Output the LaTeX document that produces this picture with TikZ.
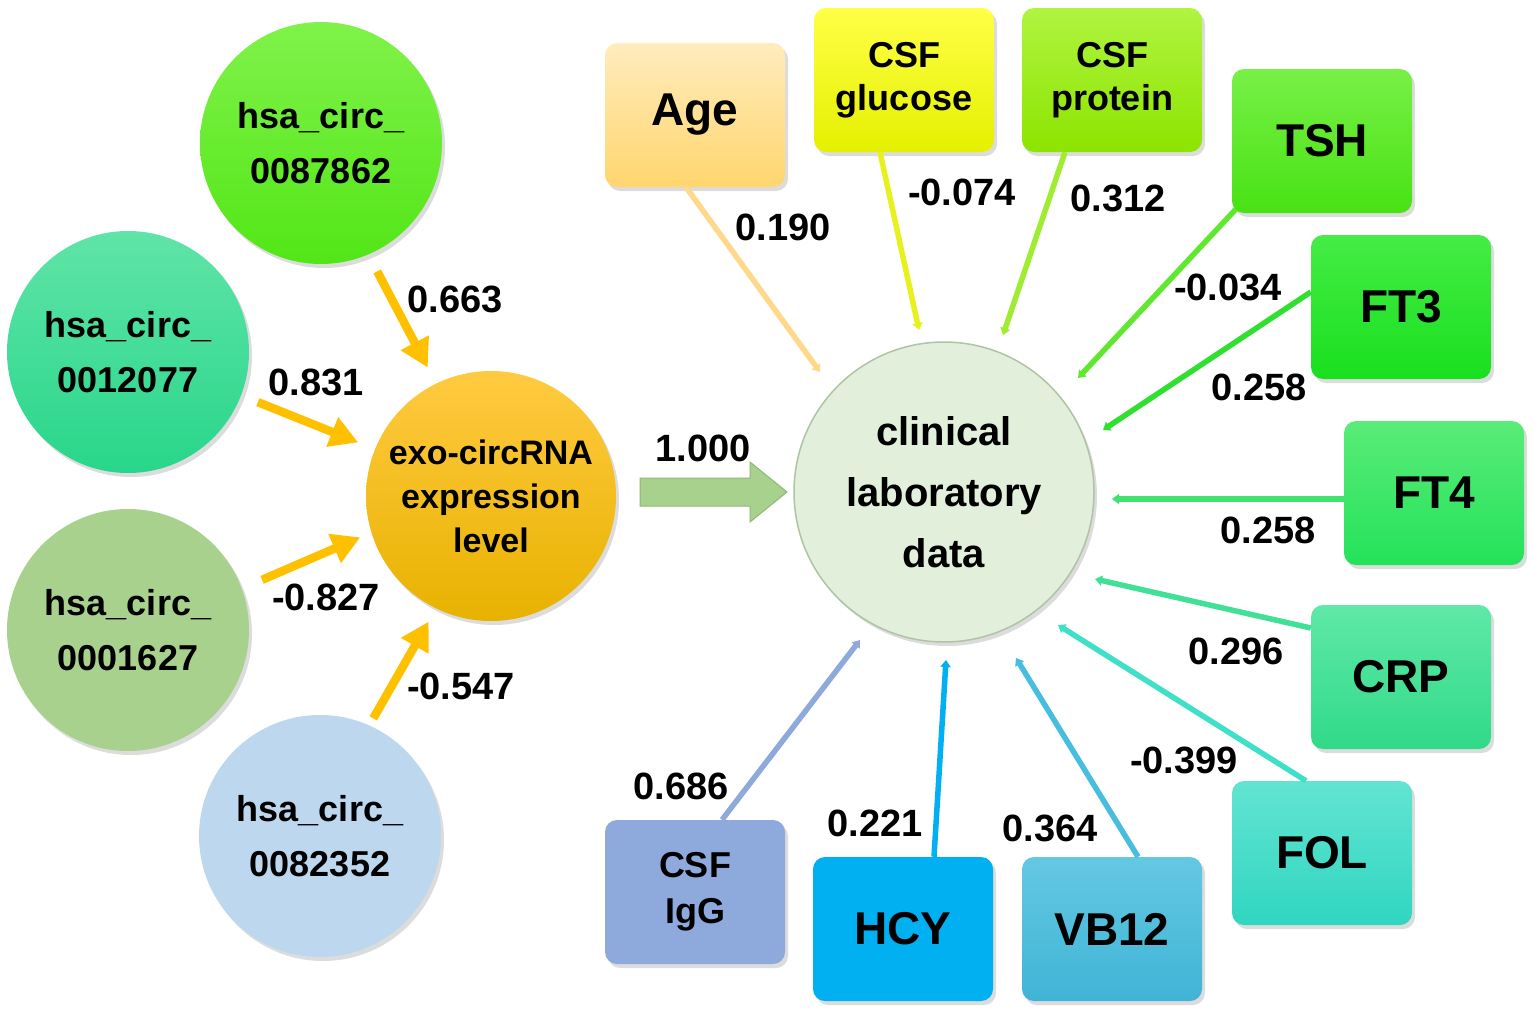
\documentclass[tikz,border=0pt]{standalone}
\usepackage{fontspec}
\setmainfont{Liberation Sans}
\usetikzlibrary{arrows.meta,shadows,calc}
\definecolor{c1t}{RGB}{128,242,74}
\definecolor{c1b}{RGB}{82,230,22}
\definecolor{c2t}{RGB}{96,228,168}
\definecolor{c2b}{RGB}{40,214,138}
\definecolor{c3}{RGB}{169,209,142}
\definecolor{c4}{RGB}{189,215,238}
\definecolor{ext}{RGB}{255,202,64}
\definecolor{exb}{RGB}{232,178,0}
\definecolor{clinF}{RGB}{226,239,218}
\definecolor{clinB}{RGB}{175,195,165}
\definecolor{oarrC}{RGB}{255,192,0}
\definecolor{barr}{RGB}{169,209,142}
\definecolor{barrB}{RGB}{140,185,115}
\definecolor{ageT}{RGB}{255,236,190}\definecolor{ageB}{RGB}{255,214,110}
\definecolor{gluT}{RGB}{255,255,70}\definecolor{gluB}{RGB}{228,240,0}
\definecolor{proT}{RGB}{176,244,64}\definecolor{proB}{RGB}{140,228,0}
\definecolor{tshT}{RGB}{120,240,70}\definecolor{tshB}{RGB}{72,226,20}
\definecolor{ftaT}{RGB}{70,236,70}\definecolor{ftaB}{RGB}{24,224,30}
\definecolor{ftbT}{RGB}{90,236,120}\definecolor{ftbB}{RGB}{36,226,90}
\definecolor{crpT}{RGB}{96,232,168}\definecolor{crpB}{RGB}{48,218,136}
\definecolor{folT}{RGB}{98,228,210}\definecolor{folB}{RGB}{48,214,192}
\definecolor{vbT}{RGB}{100,200,226}\definecolor{vbB}{RGB}{64,180,214}
\definecolor{hcyC}{RGB}{0,176,240}
\definecolor{iggC}{RGB}{142,169,219}
\definecolor{lAge}{RGB}{255,216,140}
\definecolor{lGlu}{RGB}{232,240,30}
\definecolor{lPro}{RGB}{160,236,48}
\definecolor{lTsh}{RGB}{96,232,48}
\definecolor{lFta}{RGB}{48,224,48}
\definecolor{lFtb}{RGB}{64,226,112}
\definecolor{lCrp}{RGB}{64,224,150}
\definecolor{lFol}{RGB}{64,224,200}
\definecolor{lVb}{RGB}{72,190,222}
\begin{document}
\begin{tikzpicture}[x=1pt,y=-1pt,
  shad/.style={drop shadow={shadow xshift=3pt,shadow yshift=-4pt,opacity=0.28}},
  circ/.style={circle, inner sep=0pt, align=center, shad,
    font=\fontsize{36}{55}\selectfont\bfseries},
  box/.style={rectangle, rounded corners=12pt, minimum width=180pt,
    minimum height=144pt, inner sep=0pt, align=center, shad},
  bigt/.style={font=\fontsize{46}{50}\selectfont\bfseries},
  smt/.style={font=\fontsize{36}{43}\selectfont\bfseries},
  lbl/.style={font=\fontsize{38}{40}\selectfont\bfseries, inner sep=0pt},
  oarr/.style={draw=oarrC, line width=8.5pt, -{Triangle[length=28pt,width=30pt]}},
  conn/.style={line width=5.5pt, -{Triangle[length=7pt,width=10pt]}}
]
\useasboundingbox (0,0) rectangle (1535,1017);

% left circles
\node[circ, minimum size=242pt, top color=c1t, bottom color=c1b] (c1) at (321,143) {hsa\_circ\_\\0087862};
\node[circ, minimum size=242pt, top color=c2t, bottom color=c2b] (c2) at (128,352) {hsa\_circ\_\\0012077};
\node[circ, minimum size=242pt, fill=c3] (c3) at (128,630) {hsa\_circ\_\\0001627};
\node[circ, minimum size=242pt, fill=c4] (c4) at (320,836) {hsa\_circ\_\\0082352};
\node[circ, minimum size=250pt, top color=ext, bottom color=exb,
  font=\fontsize{34}{44}\selectfont\bfseries] (exo) at (491,496) {exo-circRNA\\expression\\level};
\node[circ, minimum size=300pt, fill=clinF, draw=clinB, line width=1.5pt,
  font=\fontsize{40}{61}\selectfont\bfseries] (clin) at (944,492) {clinical\\laboratory\\data};

% orange arrows
\draw[oarr, shorten <=19pt, shorten >=18pt] (c1.-67) -- (exo.116);
\draw[oarr, shorten <=18pt, shorten >=18pt] (c2.-21) -- (exo.158);
\draw[oarr, shorten <=22pt, shorten >=12pt] (c3.20.5) -- (exo.197);
\draw[oarr, shorten <=8pt, shorten >=15pt] (c4.66) -- (exo.244);

\node[lbl] (l1) at (455,299) {0.663};
\node[lbl] (l2) at (316,382) {0.831};
\node[lbl] (l3) at (326,597) {-0.827};
\node[lbl] (l4) at (461,686) {-0.547};

% block arrow
\coordinate (bs) at (640,492);
\coordinate (be) at (787,492);
\filldraw[fill=barr, draw=barrB, line width=1pt]
  (bs) ++(0,-14) -- ++(110,0) -- ++(0,-16) -- (be) -- ++(-37,30) -- ++(0,-16) -- ++(-110,0) -- cycle;
\node[lbl] (l0) at (703,448) {1.000};

% boxes
\node[box, top color=ageT, bottom color=ageB, bigt] (age) at (695,115) {Age};
\node[box, top color=gluT, bottom color=gluB, smt] (glu) at (904,80) {CSF\\glucose};
\node[box, top color=proT, bottom color=proB, smt] (pro) at (1112,80) {CSF\\protein};
\node[box, top color=tshT, bottom color=tshB, bigt] (tsh) at (1322,141) {TSH};
\node[box, top color=ftaT, bottom color=ftaB, bigt] (fta) at (1401,307) {FT3};
\node[box, top color=ftbT, bottom color=ftbB, bigt] (ftb) at (1434,493) {FT4};
\node[box, top color=crpT, bottom color=crpB, bigt] (crp) at (1401,677) {CRP};
\node[box, top color=folT, bottom color=folB, bigt] (fol) at (1322,853) {FOL};
\node[box, top color=vbT, bottom color=vbB, bigt] (vb) at (1112,929) {VB12};
\node[box, fill=hcyC, bigt] (hcy) at (903,929) {HCY};
\node[box, fill=iggC, font=\fontsize{36}{46}\selectfont\bfseries] (igg) at (695,892) {CSF\\IgG};

% connector ends
\coordinate (eAge) at (820,372);
\coordinate (eGlu) at (919,330);
\coordinate (ePro) at (1003,335);
\coordinate (eTsh) at (1078,378);
\coordinate (eFta) at (1103,430);
\coordinate (eFtb) at (1112,499);
\coordinate (eCrp) at (1095,579);
\coordinate (eFol) at (1058,625);
\coordinate (eVb) at (1016,658);
\coordinate (eHcy) at (946,660);
\coordinate (eIgg) at (860,640);

\draw[conn, lAge] ([xshift=-9pt]age.south) -- (eAge);
\draw[conn, lGlu] ([xshift=-24pt]glu.south) -- (eGlu);
\draw[conn, lPro] ([xshift=-47pt]pro.south) -- (ePro);
\draw[conn, lTsh] ([xshift=4pt,yshift=4pt]tsh.south west) -- (eTsh);
\draw[conn, lFta] ([yshift=15pt]fta.west) -- (eFta);
\draw[conn, lFtb] ([yshift=-6pt]ftb.west) -- (eFtb);
\draw[conn, lCrp] ([yshift=49pt]crp.west) -- (eCrp);
\draw[conn, lFol] ([xshift=-16pt]fol.north) -- (eFol);
\draw[conn, lVb] ([xshift=26pt]vb.north) -- (eVb);
\draw[conn, hcyC] ([xshift=31pt]hcy.north) -- (eHcy);
\draw[conn, iggC] ([xshift=27pt]igg.north) -- (eIgg);

% labels
\node[lbl] (la) at (783,227) {0.190};
\node[lbl] (lb) at (962,192) {-0.074};
\node[lbl] (lc) at (1118,198) {0.312};
\node[lbl] (ld) at (1228,287) {-0.034};
\node[lbl] (le) at (1259,387) {0.258};
\node[lbl] (lf) at (1268,530) {0.258};
\node[lbl] (lg) at (1236,651) {0.296};
\node[lbl] (lh) at (1184,760) {-0.399};
\node[lbl] (li) at (1050,828) {0.364};
\node[lbl] (lj) at (875,823) {0.221};
\node[lbl] (lk) at (681,786) {0.686};
\end{tikzpicture}
\end{document}
